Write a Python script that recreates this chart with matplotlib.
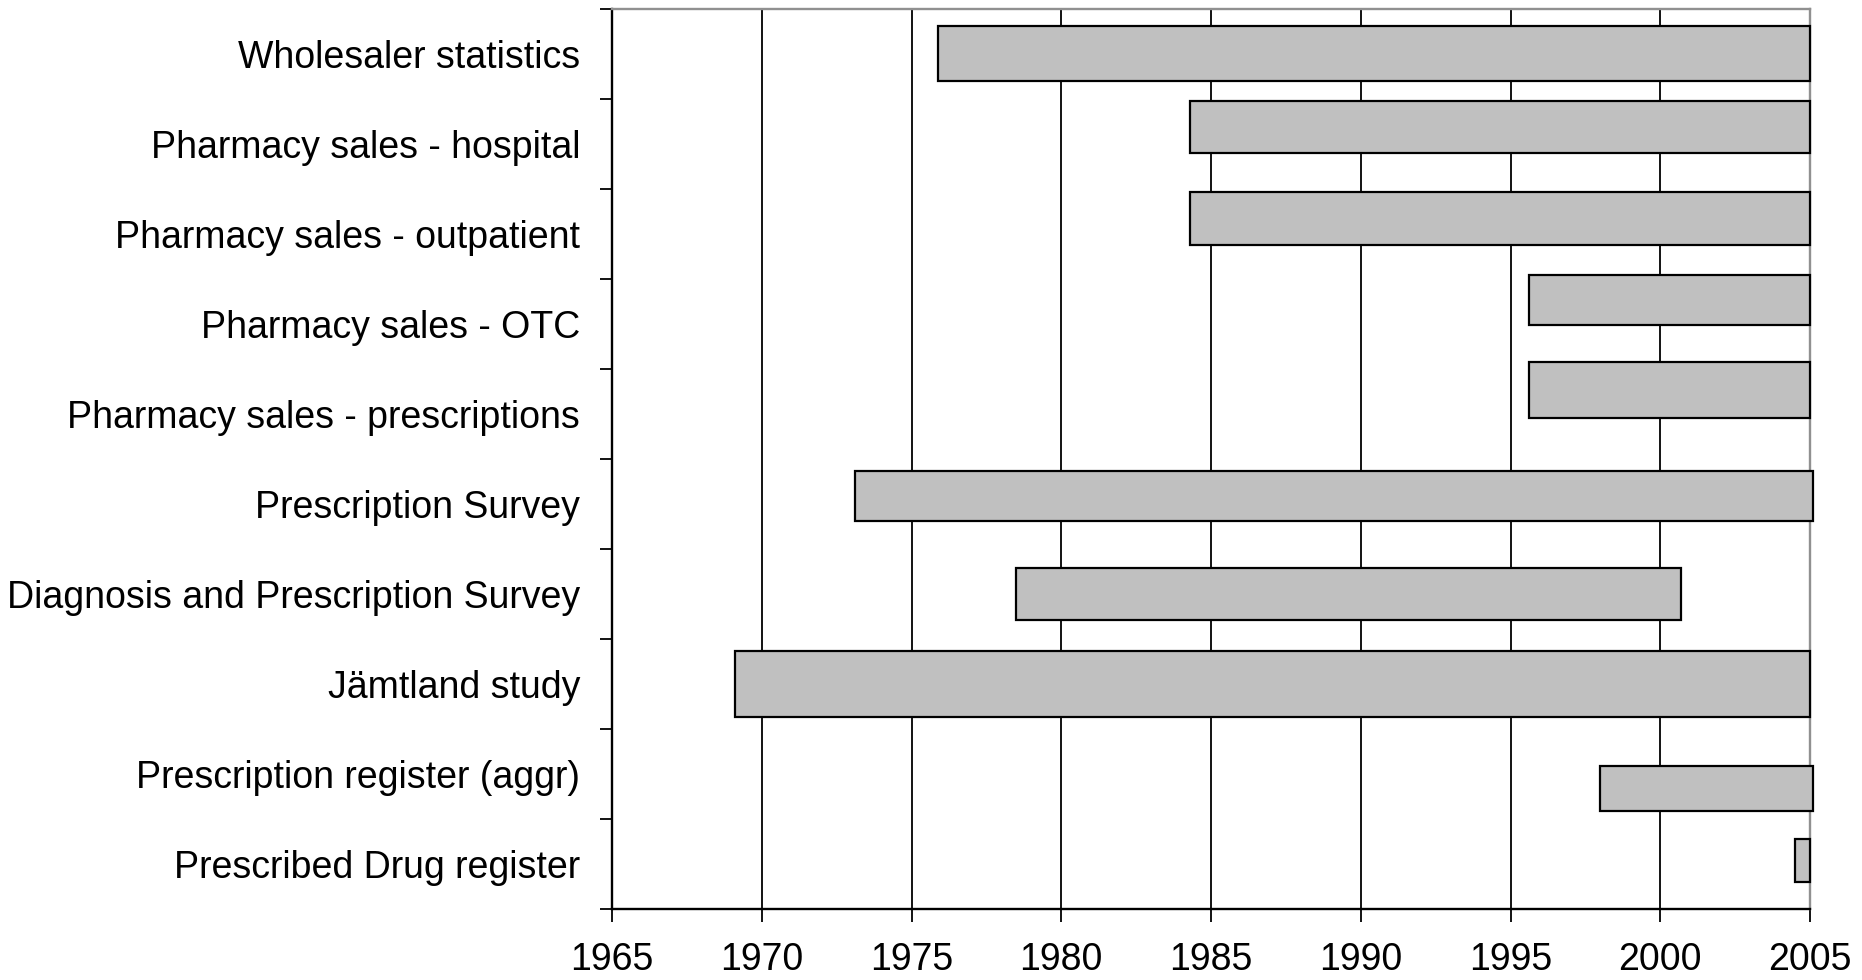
from matplotlib import pyplot as plt
import numpy as np

plt.rcParams['font.family'] = ['Liberation Sans', 'DejaVu Sans']

# data sources, top to bottom
sources = ['Wholesaler statistics',
           'Pharmacy sales - hospital',
           'Pharmacy sales - outpatient',
           'Pharmacy sales - OTC',
           'Pharmacy sales - prescriptions',
           'Prescription Survey',
           'Diagnosis and Prescription Survey',
           'Jämtland study',
           'Prescription register (aggr)',
           'Prescribed Drug register']
start_year = [1975.9, 1984.3, 1984.3, 1995.6, 1995.6,
              1973.1, 1978.5, 1969.1, 1998.0, 2004.5]
end_year = [2005.0, 2005.0, 2005.0, 2005.0, 2005.0,
            2005.1, 2000.7, 2005.0, 2005.1, 2005.0]
year_ticks = [1965, 1970, 1975, 1980, 1985, 1990, 1995, 2000, 2005]

# bar look (the original was drawn by hand, bars are uneven)
bar_thickness = [0.61, 0.57, 0.59, 0.56, 0.62, 0.56, 0.57, 0.74, 0.50, 0.48]
bar_shift = [-0.01, -0.19, -0.17, -0.27, -0.27, -0.09, 0.0, 0.0, 0.16, -0.04]


def make_chart():
    fig = plt.figure(figsize=(18.62, 9.8), dpi=100)
    ax = fig.add_axes([0.3287, 0.0724, 0.6434, 0.9184])

    ypos = np.arange(len(sources)) + np.array(bar_shift)
    widths = np.array(end_year) - np.array(start_year)
    ax.barh(ypos, widths, left=start_year, height=bar_thickness,
            color='#c0c0c0', edgecolor='black', linewidth=1.6,
            zorder=3, clip_on=False)

    ax.set_xlim(1965, 2005)
    ax.set_ylim(len(sources) - 0.5, -0.5)

    ax.set_xticks(year_ticks)
    ax.set_xticklabels([str(y) for y in year_ticks])
    ax.tick_params(axis='x', direction='out', length=9.5, width=1.3,
                   labelsize=27, pad=14)

    ax.set_yticks(np.arange(len(sources)))
    ax.set_yticklabels(sources)
    ax.set_yticks(np.arange(len(sources) + 1) - 0.5, minor=True)
    ax.tick_params(axis='y', which='major', length=0, labelsize=27, pad=23)
    ax.tick_params(axis='y', which='minor', direction='out', length=8.6,
                   width=1.3)

    ax.xaxis.grid(True, color='black', linewidth=1.3)
    ax.set_axisbelow(True)

    ax.spines['left'].set_linewidth(1.7)
    ax.spines['bottom'].set_linewidth(1.7)
    ax.spines['top'].set_color('#909090')
    ax.spines['top'].set_linewidth(1.7)
    ax.spines['right'].set_color('#909090')
    ax.spines['right'].set_linewidth(1.7)

    fig.savefig('out.png', dpi=100)


if __name__ == '__main__':
    make_chart()
